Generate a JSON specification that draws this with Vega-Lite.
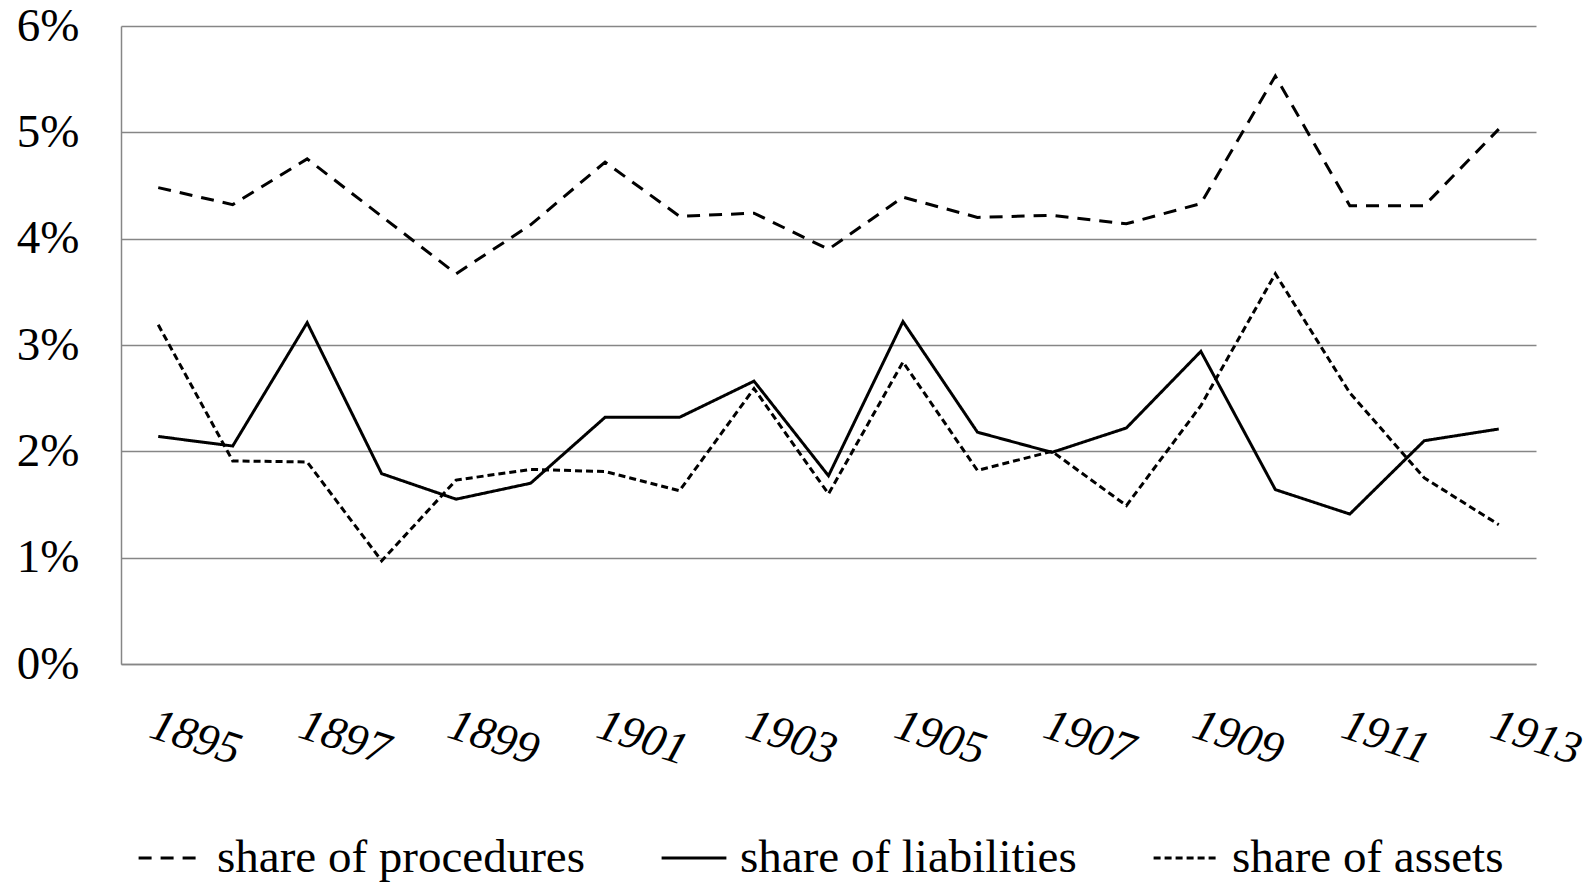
{
  "$schema": "https://vega.github.io/schema/vega-lite/v6.json",
  "width": 1415,
  "height": 638,
  "autosize": "none",
  "padding": {"left": 121, "top": 26, "right": 55, "bottom": 219},
  "background": "white",
  "config": {
    "view": {"stroke": null},
    "font": "Liberation Serif"
  },
  "data": {
    "values": [
      {"year": 1895, "series": "share of procedures", "value": 0.0448},
      {"year": 1896, "series": "share of procedures", "value": 0.0432},
      {"year": 1897, "series": "share of procedures", "value": 0.0475},
      {"year": 1898, "series": "share of procedures", "value": 0.0421},
      {"year": 1899, "series": "share of procedures", "value": 0.0367},
      {"year": 1900, "series": "share of procedures", "value": 0.0413},
      {"year": 1901, "series": "share of procedures", "value": 0.0472},
      {"year": 1902, "series": "share of procedures", "value": 0.0421},
      {"year": 1903, "series": "share of procedures", "value": 0.0424},
      {"year": 1904, "series": "share of procedures", "value": 0.0390},
      {"year": 1905, "series": "share of procedures", "value": 0.0439},
      {"year": 1906, "series": "share of procedures", "value": 0.0420},
      {"year": 1907, "series": "share of procedures", "value": 0.0422},
      {"year": 1908, "series": "share of procedures", "value": 0.0414},
      {"year": 1909, "series": "share of procedures", "value": 0.0433},
      {"year": 1910, "series": "share of procedures", "value": 0.0553},
      {"year": 1911, "series": "share of procedures", "value": 0.0431},
      {"year": 1912, "series": "share of procedures", "value": 0.0431},
      {"year": 1913, "series": "share of procedures", "value": 0.0503},
      {"year": 1895, "series": "share of liabilities", "value": 0.0214},
      {"year": 1896, "series": "share of liabilities", "value": 0.0205},
      {"year": 1897, "series": "share of liabilities", "value": 0.0321},
      {"year": 1898, "series": "share of liabilities", "value": 0.0179},
      {"year": 1899, "series": "share of liabilities", "value": 0.0155},
      {"year": 1900, "series": "share of liabilities", "value": 0.0170},
      {"year": 1901, "series": "share of liabilities", "value": 0.0232},
      {"year": 1902, "series": "share of liabilities", "value": 0.0232},
      {"year": 1903, "series": "share of liabilities", "value": 0.0266},
      {"year": 1904, "series": "share of liabilities", "value": 0.0177},
      {"year": 1905, "series": "share of liabilities", "value": 0.0322},
      {"year": 1906, "series": "share of liabilities", "value": 0.0218},
      {"year": 1907, "series": "share of liabilities", "value": 0.0199},
      {"year": 1908, "series": "share of liabilities", "value": 0.0222},
      {"year": 1909, "series": "share of liabilities", "value": 0.0294},
      {"year": 1910, "series": "share of liabilities", "value": 0.0164},
      {"year": 1911, "series": "share of liabilities", "value": 0.0141},
      {"year": 1912, "series": "share of liabilities", "value": 0.0210},
      {"year": 1913, "series": "share of liabilities", "value": 0.0221},
      {"year": 1895, "series": "share of assets", "value": 0.0319},
      {"year": 1896, "series": "share of assets", "value": 0.0191},
      {"year": 1897, "series": "share of assets", "value": 0.0190},
      {"year": 1898, "series": "share of assets", "value": 0.0097},
      {"year": 1899, "series": "share of assets", "value": 0.0173},
      {"year": 1900, "series": "share of assets", "value": 0.0183},
      {"year": 1901, "series": "share of assets", "value": 0.0181},
      {"year": 1902, "series": "share of assets", "value": 0.0163},
      {"year": 1903, "series": "share of assets", "value": 0.0259},
      {"year": 1904, "series": "share of assets", "value": 0.0160},
      {"year": 1905, "series": "share of assets", "value": 0.0284},
      {"year": 1906, "series": "share of assets", "value": 0.0182},
      {"year": 1907, "series": "share of assets", "value": 0.0200},
      {"year": 1908, "series": "share of assets", "value": 0.0149},
      {"year": 1909, "series": "share of assets", "value": 0.0243},
      {"year": 1910, "series": "share of assets", "value": 0.0367},
      {"year": 1911, "series": "share of assets", "value": 0.0255},
      {"year": 1912, "series": "share of assets", "value": 0.0175},
      {"year": 1913, "series": "share of assets", "value": 0.0131}
    ]
  },
  "mark": {"type": "line", "color": "black", "strokeWidth": 3},
  "encoding": {
    "x": {
      "field": "year",
      "type": "ordinal",
      "scale": {"type": "point", "padding": 0.5},
      "axis": {
        "title": null,
        "values": [1895, 1897, 1899, 1901, 1903, 1905, 1907, 1909, 1911, 1913],
        "ticks": false,
        "grid": false,
        "domainColor": "#868686",
        "domainWidth": 1.5,
        "labelFont": "Liberation Serif",
        "labelFontStyle": "italic",
        "labelFontSize": 46,
        "labelColor": "black",
        "labelAngle": 18,
        "labelAlign": "left",
        "labelBaseline": "top",
        "labelPadding": 38,
        "labelOverlap": false
      }
    },
    "y": {
      "field": "value",
      "type": "quantitative",
      "scale": {"domain": [0, 0.06], "nice": false},
      "axis": {
        "title": null,
        "values": [0, 0.01, 0.02, 0.03, 0.04, 0.05, 0.06],
        "format": ".0%",
        "ticks": false,
        "grid": true,
        "gridColor": "#868686",
        "gridWidth": 1.5,
        "domainColor": "#868686",
        "domainWidth": 1.5,
        "labelFont": "Liberation Serif",
        "labelFontSize": 47,
        "labelColor": "black",
        "labelPadding": 42
      }
    },
    "strokeDash": {
      "field": "series",
      "type": "nominal",
      "scale": {
        "domain": ["share of procedures", "share of liabilities", "share of assets"],
        "range": [[13, 9], [1, 0], [7, 4]]
      },
      "legend": {
        "title": null,
        "orient": "none",
        "legendX": 16,
        "legendY": 798,
        "direction": "horizontal",
        "symbolType": "stroke",
        "symbolSize": 4200,
        "symbolStrokeWidth": 3,
        "symbolStrokeColor": "black",
        "labelFont": "Liberation Serif",
        "labelFontSize": 47,
        "labelColor": "black",
        "labelOffset": 12,
        "columnPadding": 70,
        "labelLimit": 600
      }
    }
  }
}
